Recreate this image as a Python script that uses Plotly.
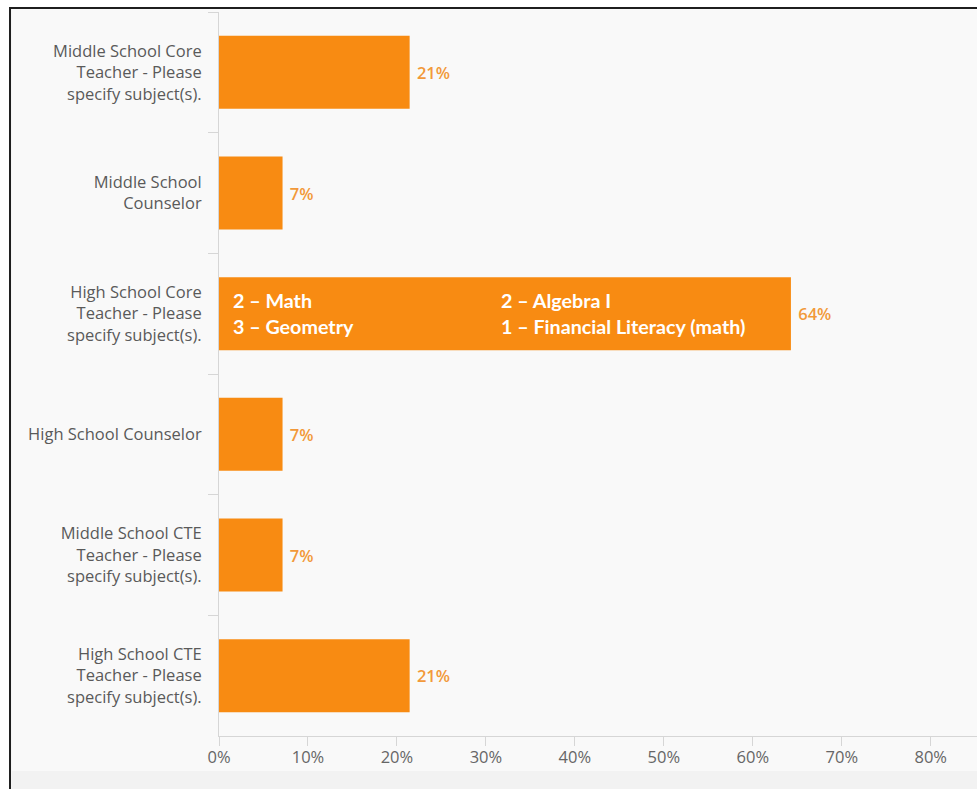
import plotly.graph_objects as go

# Survey responses: share of respondents by role (n = 14)
roles = [
    "Middle School Core<br>Teacher - Please<br>specify subject(s).",
    "Middle School<br>Counselor",
    "High School Core<br>Teacher - Please<br>specify subject(s).",
    "High School Counselor",
    "Middle School CTE<br>Teacher - Please<br>specify subject(s).",
    "High School CTE<br>Teacher - Please<br>specify subject(s).",
]
counts = [3, 1, 9, 1, 1, 3]
total = 14
shares = [c / total * 100 for c in counts]

# Subjects listed by high school core teachers (two columns inside the bar)
subject_col1 = ["2 – Math", "3 – Geometry"]
subject_col2 = ["2 – Algebra I", "1 – Financial Literacy (math)"]

x_ticks = [0, 10, 20, 30, 40, 50, 60, 70, 80]
x_tick_text = [f"{t}%" for t in x_ticks]

BAR = "#f88b12"
LABEL = "#f2993a"
TEXT = "#5a5a5a"
AXIS = "#d6d6d6"

fig = go.Figure(
    go.Bar(
        x=shares,
        y=roles,
        orientation="h",
        marker=dict(color=BAR, line=dict(width=0)),
        texttemplate="\u00a0%{x:.0f}%",
        textposition="outside",
        textfont=dict(family="Open Sans", size=16.5, color=LABEL, weight=600),
        cliponaxis=False,
        hoverinfo="skip",
    )
)

# Subject breakdown written on the high-school core bar
core = roles[2]
for col_x, lines in ((1.35, subject_col1), (31.45, subject_col2)):
    for i, line in enumerate(lines):
        fig.add_annotation(
            x=col_x, y=core, xref="x", yref="y",
            text=line, showarrow=False,
            xanchor="left", yanchor="middle",
            yshift=13 - 26 * i,
            font=dict(family="Lato", size=19.7, color="white", weight="bold"),
        )

# Framed light-grey panel and the footer band beneath the axis
fig.add_shape(
    type="rect", xref="paper", yref="paper",
    x0=-0.2757, x1=1.05, y0=-0.2, y1=1.0055,
    line=dict(color="#1e1e1e", width=2), fillcolor="#f9f9f9", layer="below",
)
fig.add_shape(
    type="rect", xref="paper", yref="paper",
    x0=-0.273, x1=1.05, y0=-0.2, y1=-0.0483,
    line=dict(width=0), fillcolor="#f2f2f2", layer="below",
)

fig.update_layout(
    width=977, height=789,
    margin=dict(l=219, r=0, t=12, b=53),
    paper_bgcolor="white",
    plot_bgcolor="rgba(0,0,0,0)",
    bargap=0.395,
    showlegend=False,
    font=dict(family="Open Sans", color=TEXT),
)
fig.update_xaxes(
    range=[0, 85.2],
    tickvals=x_ticks, ticktext=x_tick_text,
    showgrid=False, zeroline=False,
    showline=True, linecolor=AXIS, linewidth=1,
    ticks="outside", ticklen=9, tickcolor=AXIS,
    ticklabelstandoff=-3,
    tickfont=dict(family="Open Sans", size=16.5, color="#666666"),
    fixedrange=True,
)
fig.update_yaxes(
    autorange="reversed",
    showgrid=False, zeroline=False,
    showline=True, linecolor=AXIS, linewidth=1,
    ticks="outside", ticklen=10, tickcolor=AXIS,
    tickson="boundaries",
    ticklabelstandoff=13,
    tickfont=dict(family="Open Sans", size=16.5, color=TEXT),
    fixedrange=True,
)

fig.write_html("out.html")
